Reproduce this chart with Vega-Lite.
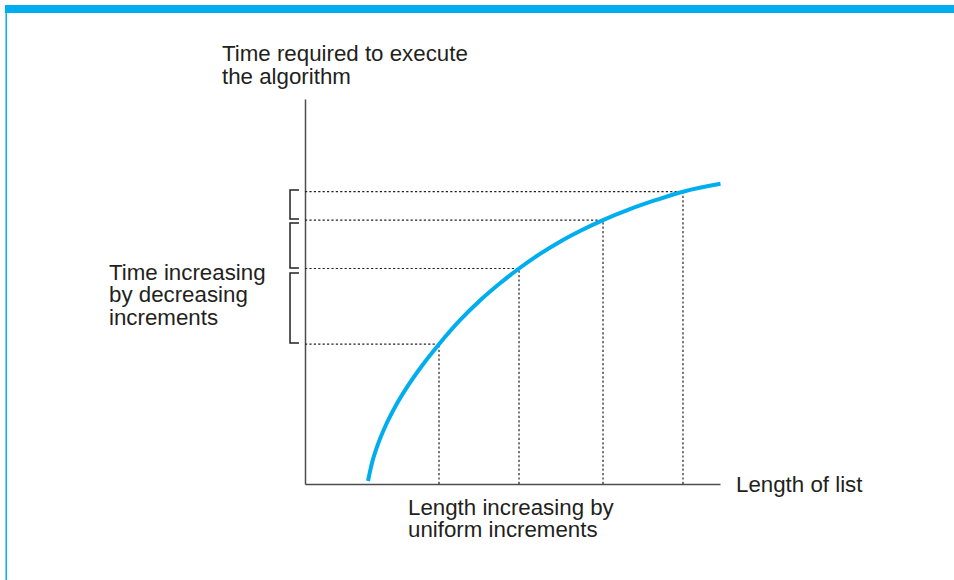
{
  "$schema": "https://vega.github.io/schema/vega-lite/v6.json",
  "width": 415,
  "height": 385,
  "autosize": "none",
  "padding": {"left": 305, "top": 99, "right": 234, "bottom": 96},
  "background": "white",
  "config": {
    "view": {"stroke": null},
    "axis": {"grid": false, "ticks": false, "labels": false, "title": null, "domainColor": "#4d4d4d", "domainWidth": 1.5}
  },
  "datasets": {
    "curve": [
      {"length": 15.18, "time": 0.78},
      {"length": 16.14, "time": 5.43},
      {"length": 17.59, "time": 10.36},
      {"length": 19.52, "time": 15.40},
      {"length": 21.93, "time": 20.47},
      {"length": 24.82, "time": 25.56},
      {"length": 28.19, "time": 30.73},
      {"length": 32.29, "time": 36.31},
      {"length": 37.35, "time": 42.55},
      {"length": 42.17, "time": 47.66},
      {"length": 46.99, "time": 52.13},
      {"length": 51.57, "time": 55.97},
      {"length": 56.63, "time": 59.77},
      {"length": 61.45, "time": 62.94},
      {"length": 66.27, "time": 65.71},
      {"length": 71.81, "time": 68.55},
      {"length": 78.31, "time": 71.40},
      {"length": 84.82, "time": 73.84},
      {"length": 91.08, "time": 75.92},
      {"length": 100.12, "time": 77.97}
    ],
    "steps": [
      {"length": 32.29, "time": 36.31, "base": 0},
      {"length": 51.57, "time": 55.97, "base": 0},
      {"length": 71.81, "time": 68.55, "base": 0},
      {"length": 91.08, "time": 75.92, "base": 0}
    ],
    "brackets": [
      {"bracket": 1, "order": 1, "length": -1.45, "time": 76.36},
      {"bracket": 1, "order": 2, "length": -3.61, "time": 76.36},
      {"bracket": 1, "order": 3, "length": -3.61, "time": 68.83},
      {"bracket": 1, "order": 4, "length": -1.45, "time": 68.83},
      {"bracket": 2, "order": 1, "length": -1.45, "time": 67.79},
      {"bracket": 2, "order": 2, "length": -3.61, "time": 67.79},
      {"bracket": 2, "order": 3, "length": -3.61, "time": 56.10},
      {"bracket": 2, "order": 4, "length": -1.45, "time": 56.10},
      {"bracket": 3, "order": 1, "length": -1.45, "time": 54.81},
      {"bracket": 3, "order": 2, "length": -3.61, "time": 54.81},
      {"bracket": 3, "order": 3, "length": -3.61, "time": 36.62},
      {"bracket": 3, "order": 4, "length": -1.45, "time": 36.62}
    ],
    "labels": [
      {"text": "Time required to execute\nthe algorithm", "length": -20.0, "time": 109.87},
      {"text": "Time increasing\nby decreasing\nincrements", "length": -47.23, "time": 52.99},
      {"text": "Length increasing by\nuniform increments", "length": 24.82, "time": -8.05},
      {"text": "Length of list", "length": 103.86, "time": -1.95}
    ],
    "frame": [
      {"x1": -72.3, "x2": 156.39, "y1": 122.34, "y2": 124.42}
    ],
    "edge": [
      {"x": -72.0, "y1": -24.94, "y2": 122.4}
    ]
  },
  "layer": [
    {
      "data": {"name": "frame"},
      "mark": {"type": "rect", "color": "#00AEEF"},
      "encoding": {
        "x": {"field": "x1", "type": "quantitative", "scale": {"domain": [0, 100], "nice": false, "zero": false}},
        "x2": {"field": "x2"},
        "y": {"field": "y1", "type": "quantitative", "scale": {"domain": [0, 100], "nice": false, "zero": false}},
        "y2": {"field": "y2"}
      }
    },
    {
      "data": {"name": "edge"},
      "mark": {"type": "rule", "color": "#00AEEF", "strokeWidth": 1.5},
      "encoding": {
        "x": {"field": "x", "type": "quantitative"},
        "y": {"field": "y1", "type": "quantitative"},
        "y2": {"field": "y2"}
      }
    },
    {
      "data": {"name": "steps"},
      "mark": {"type": "rule", "color": "#222222", "strokeWidth": 1.2, "strokeDash": [2.2, 2.2]},
      "encoding": {
        "x": {"field": "base", "type": "quantitative"},
        "x2": {"field": "length"},
        "y": {"field": "time", "type": "quantitative"}
      }
    },
    {
      "data": {"name": "steps"},
      "mark": {"type": "rule", "color": "#222222", "strokeWidth": 1.2, "strokeDash": [2.2, 2.2]},
      "encoding": {
        "x": {"field": "length", "type": "quantitative"},
        "y": {"field": "base", "type": "quantitative"},
        "y2": {"field": "time"}
      }
    },
    {
      "data": {"name": "brackets"},
      "mark": {"type": "line", "color": "#222222", "strokeWidth": 1.5, "strokeJoin": "miter"},
      "encoding": {
        "x": {"field": "length", "type": "quantitative"},
        "y": {"field": "time", "type": "quantitative"},
        "detail": {"field": "bracket", "type": "nominal"},
        "order": {"field": "order", "type": "quantitative"}
      }
    },
    {
      "data": {"name": "curve"},
      "mark": {"type": "line", "color": "#00AEEF", "strokeWidth": 4, "strokeCap": "butt", "interpolate": "monotone"},
      "encoding": {
        "x": {"field": "length", "type": "quantitative"},
        "y": {"field": "time", "type": "quantitative"}
      }
    },
    {
      "data": {"name": "labels"},
      "mark": {"type": "text", "align": "left", "baseline": "alphabetic", "lineBreak": "\n", "lineHeight": 22.5, "font": "Liberation Sans", "fontSize": 22.3, "color": "#231f20"},
      "encoding": {
        "x": {"field": "length", "type": "quantitative"},
        "y": {"field": "time", "type": "quantitative"},
        "text": {"field": "text", "type": "nominal"}
      }
    }
  ]
}
